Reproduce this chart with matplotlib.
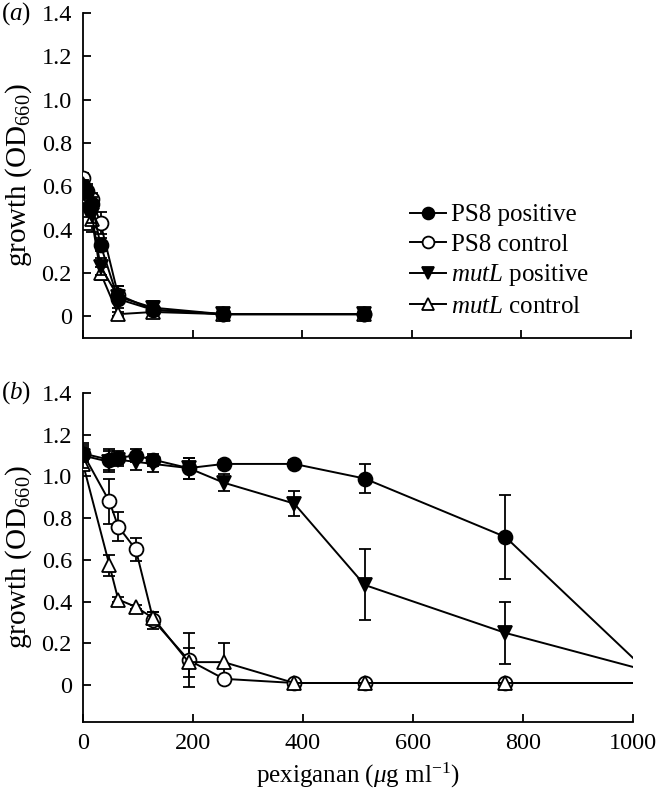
import matplotlib
matplotlib.use("Agg")
import matplotlib.pyplot as plt
from matplotlib.lines import Line2D
import numpy as np

plt.rcParams['font.family'] = ['Liberation Serif', 'DejaVu Serif']
plt.rcParams['mathtext.fontset'] = 'custom'
plt.rcParams['mathtext.rm'] = 'Liberation Serif'
plt.rcParams['mathtext.it'] = 'Liberation Serif:italic'
plt.rcParams['font.size'] = 17.5

# panel (a)
conc_a = [0, 8, 16, 32, 64, 128, 256, 512]
ps8_pos_a = [0.60, 0.58, 0.52, 0.33, 0.08, 0.03, 0.01, 0.01]
ps8_pos_a_err = [0.03, 0.03, 0.03, 0.03, 0.02, 0.02, 0.01, 0.01]
ps8_ctl_a = [0.64, 0.57, 0.54, 0.43, 0.10, 0.03, 0.01, 0.01]
ps8_ctl_a_err = [0.02, 0.03, 0.03, 0.05, 0.04, 0.02, 0.01, 0.01]
mutl_pos_a = [0.57, 0.49, 0.47, 0.23, 0.09, 0.04, 0.01, 0.01]
mutl_pos_a_err = [0.03, 0.03, 0.04, 0.04, 0.05, 0.03, 0.01, 0.01]
mutl_ctl_a = [0.61, 0.54, 0.45, 0.20, 0.01, 0.02, 0.01, 0.01]
mutl_ctl_a_err = [0.02, 0.03, 0.06, 0.03, 0.01, 0.01, 0.01, 0.01]

# panel (b)
conc_b = [0, 48, 64, 96, 128, 192, 256, 384, 512, 768, 1024]
ps8_pos_b = [1.11, 1.08, 1.09, 1.10, 1.08, 1.04, 1.06, 1.06, 0.99, 0.71, 0.07]
ps8_pos_b_err = [0.04, 0.05, 0.03, 0.03, 0.03, 0.05, 0.02, 0.02, 0.07, 0.20, 0.0]
ps8_ctl_b = [1.11, 0.88, 0.76, 0.65, 0.31, 0.12, 0.03, 0.01, 0.01, 0.01, 0.01]
ps8_ctl_b_err = [0.03, 0.11, 0.07, 0.055, 0.04, 0.13, 0.01, 0.0, 0.0, 0.0, 0.0]
mutl_pos_b = [1.10, 1.07, 1.08, 1.07, 1.06, 1.04, 0.97, 0.87, 0.48, 0.25, 0.07]
mutl_pos_b_err = [0.06, 0.05, 0.03, 0.04, 0.04, 0.05, 0.04, 0.06, 0.17, 0.15, 0.0]
mutl_ctl_b = [1.06, 0.575, 0.41, 0.375, 0.32, 0.11, 0.11, 0.01, 0.01, 0.01, 0.01]
mutl_ctl_b_err = [0.02, 0.05, 0.01, 0.01, 0.03, 0.07, 0.09, 0.0, 0.0, 0.0, 0.0]

labels = ['PS8 positive', 'PS8 control', r'$\it{mutL}$ positive', r'$\it{mutL}$ control']
markers = ['o', 'o', 'v', '^']
faces = ['black', 'white', 'black', 'white']

W, H = 657, 790
fig = plt.figure(figsize=(W / 100, H / 100), dpi=100)
ax1 = fig.add_axes([83 / W, 1 - 338 / H, (631 - 83) / W, (338 - 13) / H])
ax2 = fig.add_axes([83 / W, 1 - 722 / H, (633 - 83) / W, (722 - 393) / H])


def draw(ax, x, series):
	for i, (y, e) in enumerate(series):
		ax.errorbar(x, y, yerr=e, fmt='-', marker=markers[i], color='black',
					mfc=faces[i], mec='black', ms=10, mew=1.3, lw=1.4,
					elinewidth=1.3, capsize=4.5, capthick=1.3,
					zorder=3 + (i % 2 == 0))


draw(ax1, conc_a, [(ps8_pos_a, ps8_pos_a_err), (ps8_ctl_a, ps8_ctl_a_err),
				   (mutl_pos_a, mutl_pos_a_err), (mutl_ctl_a, mutl_ctl_a_err)])
draw(ax2, conc_b, [(ps8_pos_b, ps8_pos_b_err), (ps8_ctl_b, ps8_ctl_b_err),
				   (mutl_pos_b, mutl_pos_b_err), (mutl_ctl_b, mutl_ctl_b_err)])

ax1.set_ylim(-0.1, 1.4)
ax2.set_ylim(-0.177, 1.4)
for ax in (ax1, ax2):
	ax.set_xlim(0, 1000)
	ax.set_xticks(np.arange(0, 1001, 200))
	ax.set_yticks(np.arange(0, 1.41, 0.2))
	ax.set_yticklabels(['0'] + ['%.1f' % v for v in np.arange(0.2, 1.41, 0.2)])
	ax.spines['top'].set_visible(False)
	ax.spines['right'].set_visible(False)
	ax.spines['left'].set_linewidth(1.3)
	ax.spines['bottom'].set_linewidth(1.3)
	ax.tick_params(direction='in', length=6, width=1.3, labelsize=17.5, pad=8)
	ax.set_ylabel(r'growth (OD$_{\mathregular{660}}$)', fontsize=21, labelpad=5)

ax1.tick_params(axis='x', labelbottom=False)
ax2.set_xlabel(r'pexiganan ($\mu$g ml$^{-1}$)', fontsize=18, labelpad=5)

handles = [Line2D([], [], color='black', lw=1.4, marker=markers[i], mfc=faces[i],
				  mec='black', ms=8.5, mew=1.3) for i in range(4)]
ax1.legend(handles, labels, loc='upper left', bbox_to_anchor=(410 / W, 1 - 204 / H),
		   bbox_transform=fig.transFigure, frameon=False, fontsize=18,
		   handlelength=1.45, handletextpad=0.2, labelspacing=0.27,
		   borderpad=0, borderaxespad=0)

fig.text(0.002, 1 - 14 / H, r'($\it{a}$)', fontsize=18, va='center', ha='left')
fig.text(0.002, 1 - 393 / H, r'($\it{b}$)', fontsize=18, va='center', ha='left')

fig.savefig('out.png', dpi=100)
